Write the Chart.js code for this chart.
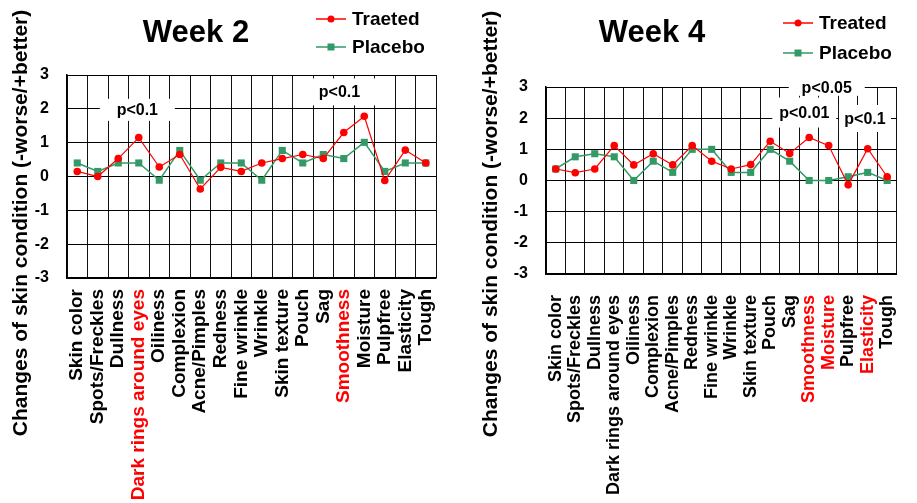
<!DOCTYPE html>
<html>
<head>
<meta charset="utf-8">
<script src="https://cdn.jsdelivr.net/npm/chart.js@4"></script>
<style>
html, body { margin: 0; padding: 0; background: #fff; overflow: hidden; }
#wrap { position: relative; width: 917px; height: 503px; overflow: hidden; }
canvas { position: absolute; top: 0; }
#week2 { left: 0; }
#week4 { left: 470px; }
</style>
</head>
<body>
<div id="wrap">
  <canvas id="week2" width="460" height="503"></canvas>
  <canvas id="week4" width="460" height="503"></canvas>
</div>
<script>
// ===== Data =====
const categories = ['Skin color', 'Spots/Freckles', 'Dullness', 'Dark rings around eyes', 'Oiliness',
  'Complexion', 'Acne/Pimples', 'Redness', 'Fine wrinkle', 'Wrinkle', 'Skin texture', 'Pouch', 'Sag',
  'Smoothness', 'Moisture', 'Pulpfree', 'Elasticity', 'Tough'];

const week2Treated = [0.15, 0.00, 0.53, 1.15, 0.28, 0.65, -0.37, 0.27, 0.15, 0.40, 0.53, 0.65, 0.53, 1.30, 1.78, -0.12, 0.78, 0.40];
const week2Placebo = [0.40, 0.15, 0.40, 0.40, -0.11, 0.77, -0.11, 0.40, 0.40, -0.11, 0.77, 0.40, 0.65, 0.53, 1.01, 0.15, 0.40, 0.40];

const week4Treated = [0.37, 0.25, 0.37, 1.12, 0.50, 0.86, 0.50, 1.12, 0.62, 0.37, 0.51, 1.26, 0.87, 1.38, 1.12, -0.14, 1.02, 0.12];
const week4Placebo = [0.37, 0.76, 0.86, 0.76, 0.00, 0.62, 0.26, 1.00, 1.00, 0.26, 0.26, 1.00, 0.62, 0.00, 0.00, 0.12, 0.26, 0.00];

const yTicks = [-3, -2, -1, 0, 1, 2, 3];

// labels printed in red on each chart
const week2Red = ['Dark rings around eyes', 'Smoothness'];
const week4Red = ['Smoothness', 'Moisture', 'Elasticity'];

// ===== Styling =====
const FONT = '"Liberation Sans", Arial, Helvetica, sans-serif';
const RED = '#ff0000';
const GREEN = '#339966';

// title, legend, y title and p-value notes
const decoPlugin = {
  id: 'deco',
  beforeDatasetsDraw(chart, args, o) {
    const ctx = chart.ctx;
    const x = chart.scales.x, y = chart.scales.y;
    ctx.save();
    o.notes.forEach(n => {
      const px = x.getPixelForValue(n.x);
      const py = y.getPixelForValue(n.y);
      ctx.fillStyle = '#fff';
      ctx.fillRect(px - n.w / 2, py - n.h / 2, n.w, n.h);
      ctx.fillStyle = '#000';
      ctx.font = 'bold 16px ' + FONT;
      ctx.textAlign = 'center';
      ctx.textBaseline = 'middle';
      ctx.fillText(n.text, px, py + 1);
    });
    ctx.restore();
  },
  afterDraw(chart, args, o) {
    const ctx = chart.ctx;
    ctx.save();
    ctx.fillStyle = '#000';
    ctx.textBaseline = 'middle';

    // title
    ctx.font = 'bold 31px ' + FONT;
    ctx.textAlign = 'center';
    ctx.fillText(o.title, o.titleX, o.titleY);

    // legend
    ctx.font = 'bold 19px ' + FONT;
    ctx.textAlign = 'left';
    chart.data.datasets.forEach((ds, i) => {
      const ly = o.legendY[i];
      ctx.strokeStyle = ds.borderColor;
      ctx.lineWidth = 1.5;
      ctx.beginPath();
      ctx.moveTo(o.legendX, ly);
      ctx.lineTo(o.legendX + 30, ly);
      ctx.stroke();
      ctx.fillStyle = ds.backgroundColor;
      if (ds.pointStyle === 'rect') {
        ctx.fillRect(o.legendX + 11.5, ly - 3.5, 7, 7);
      } else {
        ctx.beginPath();
        ctx.arc(o.legendX + 15, ly, 3.5, 0, Math.PI * 2);
        ctx.fill();
      }
      ctx.fillStyle = '#000';
      ctx.fillText(ds.label, o.legendX + 36, ly + 1);
    });

    // y axis title
    ctx.font = 'bold 21px ' + FONT;
    ctx.textAlign = 'center';
    ctx.translate(o.yTitleX, o.yTitleY);
    ctx.rotate(-Math.PI / 2);
    ctx.fillText('Changes of skin condition (-worse/+better)', 0, 0);
    ctx.restore();
  }
};

function makeChart(id, cfg) {
  return new Chart(document.getElementById(id), {
    type: 'line',
    data: {
      labels: categories,
      datasets: [
        { label: cfg.names[0], data: cfg.treated, borderColor: RED, backgroundColor: RED,
          borderWidth: 1.2, pointStyle: 'circle', pointRadius: 3.8, pointBorderWidth: 0 },
        { label: cfg.names[1], data: cfg.placebo, borderColor: GREEN, backgroundColor: GREEN,
          borderWidth: 1.5, pointStyle: 'rect', pointRadius: 5, pointBorderWidth: 0 }
      ]
    },
    options: {
      responsive: false,
      animation: false,
      layout: { padding: { top: cfg.top, right: cfg.right, left: 0, bottom: 0 } },
      plugins: {
        legend: { display: false },
        title: { display: false },
        tooltip: { enabled: false },
        deco: cfg.deco
      },
      scales: {
        x: {
          offset: true,
          grid: { offset: true, color: '#111', lineWidth: 1, drawTicks: false },
          border: { color: '#000', width: 1.5 },
          ticks: {
            autoSkip: false,
            minRotation: 90,
            maxRotation: 90,
            padding: cfg.labelPad,
            font: { family: FONT, size: cfg.labelSize, weight: 'bold' },
            color: c => cfg.red.includes(categories[c.index]) ? RED : '#000'
          },
          afterFit: s => { s.height = cfg.xHeight; }
        },
        y: {
          min: -3,
          max: 3,
          afterBuildTicks: s => { s.ticks = yTicks.map(v => ({ value: v })); },
          grid: { color: '#000', lineWidth: 1, drawTicks: false },
          border: { color: '#000', width: 1.5 },
          ticks: { padding: 18, color: '#000', font: { family: FONT, size: 16, weight: 'bold' } },
          afterFit: s => { s.width = cfg.yWidth; }
        }
      }
    },
    plugins: [decoPlugin]
  });
}

makeChart('week2', {
  names: ['Traeted', 'Placebo'],
  treated: week2Treated,
  placebo: week2Placebo,
  red: week2Red,
  top: 75, right: 15, yWidth: 67, xHeight: 225, labelPad: 11, labelSize: 19,
  deco: {
    title: 'Week 2', titleX: 196, titleY: 33,
    legendX: 316, legendY: [19, 47],
    yTitleX: 21, yTitleY: 223,
    notes: [
      { text: 'p<0.1', x: 2.93, y: 1.97, w: 75, h: 22 },
      { text: 'p<0.1', x: 12.79, y: 2.5, w: 93, h: 27 }
    ]
  }
});

makeChart('week4', {
  names: ['Treated', 'Placebo'],
  treated: week4Treated,
  placebo: week4Placebo,
  red: week4Red,
  top: 87, right: 8, yWidth: 76, xHeight: 229, labelPad: 21, labelSize: 18,
  deco: {
    title: 'Week 4', titleX: 182, titleY: 33,
    legendX: 313, legendY: [23, 53],
    yTitleX: 21, yTitleY: 224,
    notes: [
      { text: 'p<0.05', x: 13.9, y: 2.99, w: 76, h: 17 },
      { text: 'p<0.01', x: 12.75, y: 2.18, w: 64, h: 30 },
      { text: 'p<0.1', x: 15.86, y: 1.99, w: 52, h: 27 }
    ]
  }
});
</script>
</body>
</html>
